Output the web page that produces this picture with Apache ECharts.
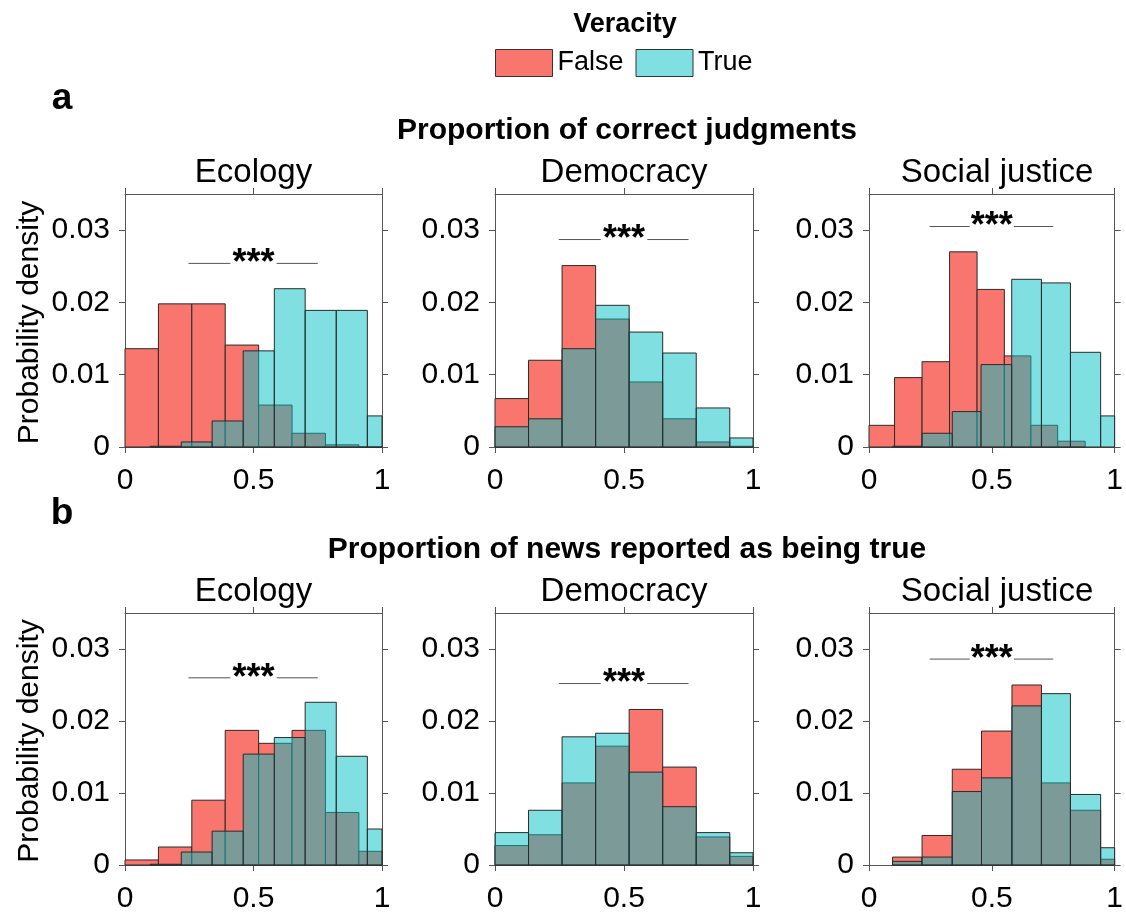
<!DOCTYPE html>
<html>
<head>
<meta charset="utf-8">
<script src="https://cdn.jsdelivr.net/npm/echarts@6/dist/echarts.min.js"></script>
<style>html,body{margin:0;padding:0;background:#fff}#c{width:1126px;height:915px}</style>
</head>
<body>
<div id="c"></div>
<script>
// ---- data ----
var panelTitles = ['Ecology', 'Democracy', 'Social justice'];
var rowTitles = ['Proportion of correct judgments', 'Proportion of news reported as being true'];
var rowLetters = ['a', 'b'];
var xTicks = [0, 0.5, 1];
var yTicks = [0, 0.01, 0.02, 0.03];

// bin edges
var edges13 = [0, 0.13, 0.26, 0.39, 0.52, 0.65, 0.78, 0.91, 1.04];
var edges12 = [0.098, 0.219, 0.339, 0.46, 0.581, 0.701, 0.822, 0.943, 1.063];
var edgesSJaFalse = [0, 0.104, 0.216, 0.328, 0.44, 0.551, 0.659, 0.768, 0.88];
var edgesSJaTrue = [0.096, 0.216, 0.339, 0.456, 0.581, 0.702, 0.82, 0.943, 1.065];
var edgesSJb = [0.096, 0.216, 0.339, 0.458, 0.582, 0.702, 0.82, 0.943, 1.065];

// row a: proportion of correct judgments
var ecoA_false = [0.0136, 0.0198, 0.0198, 0.0141, 0.0058, 0.0019, 0.0003, 0];
var ecoA_true  = [0.0001, 0.0007, 0.0036, 0.0133, 0.0219, 0.0189, 0.0189, 0.0043];
var demA_false = [0.0067, 0.0120, 0.0251, 0.0177, 0.0090, 0.0039, 0.0007, 0.0001];
var demA_true  = [0.0028, 0.0039, 0.0136, 0.0196, 0.0159, 0.0130, 0.0054, 0.00125];
var sjA_false  = [0.0030, 0.0096, 0.0118, 0.0270, 0.0218, 0.0126, 0.0030, 0.0008];
var sjA_true   = [0.0001, 0.0019, 0.0049, 0.0114, 0.0232, 0.0227, 0.0131, 0.0043];
// row b: proportion of news reported as being true
var ecoB_false = [0.0007, 0.0025, 0.0090, 0.0187, 0.0169, 0.0187, 0.0073, 0.0019];
var ecoB_true  = [0.0001, 0.0018, 0.0047, 0.0154, 0.0177, 0.0226, 0.0151, 0.0050];
var demB_false = [0.0027, 0.0042, 0.0114, 0.0165, 0.0216, 0.0136, 0.0039, 0.0012];
var demB_true  = [0.0045, 0.0076, 0.0178, 0.0183, 0.0129, 0.0081, 0.0045, 0.0017];
var sjB_false  = [0.0011, 0.0041, 0.0133, 0.0186, 0.0250, 0.0114, 0.0076, 0.0008];
var sjB_true   = [0.0005, 0.0011, 0.0102, 0.0121, 0.0221, 0.0238, 0.0098, 0.0024];

// significance brackets (y value of line), line extents in x
var sigY = [0.0254, 0.0287, 0.0305, 0.0260, 0.0252, 0.0286];
var sigLeft = [0.247, 0.41];
var sigRight = [0.59, 0.75];
var sigText = '***';

var panels = [
  {fe: edges13, f: ecoA_false, te: edges12, t: ecoA_true},
  {fe: edges13, f: demA_false, te: edges13, t: demA_true},
  {fe: edgesSJaFalse, f: sjA_false, te: edgesSJaTrue, t: sjA_true},
  {fe: edges13, f: ecoB_false, te: edges12, t: ecoB_true},
  {fe: edges13, f: demB_false, te: edges13, t: demB_true},
  {fe: edgesSJb, f: sjB_false, te: edgesSJb, t: sjB_true}
];

// ---- layout / style ----
var FONT = "'Liberation Sans', Arial, Helvetica, sans-serif";
var RED = '#F8766D';
var CYAN = 'rgba(0,191,196,0.5)';
var EDGE = '#2a2a2a';
var AX = '#555555';
var colLeft = [125, 495, 869];
var colWidth = [257, 258, 256];
var rowTop = [194, 613];
var rowHeight = [253, 252];

var grids = [], xAxes = [], yAxes = [], series = [], graphics = [];

function barSeries(name, edges, heights, fill, xi, z) {
  var data = heights.map(function (h, i) { return [edges[i], edges[i + 1], h]; });
  return {
    type: 'custom', name: name, xAxisIndex: xi, yAxisIndex: xi, z: z,
    itemStyle: {color: fill, borderColor: EDGE, borderWidth: 1},
    encode: {x: [0, 1], y: 2},
    data: data,
    renderItem: function (params, api) {
      var p0 = api.coord([api.value(0), api.value(2)]);
      var p1 = api.coord([api.value(1), 0]);
      var cs = params.coordSys;
      var r = echarts.graphic.clipRectByRect(
        {x: p0[0], y: p0[1], width: p1[0] - p0[0], height: p1[1] - p0[1]},
        {x: cs.x, y: cs.y, width: cs.width, height: cs.height});
      if (!r) return null;
      return {type: 'rect', shape: r, style: {fill: fill, stroke: EDGE, lineWidth: 1}};
    }
  };
}

for (var i = 0; i < 6; i++) {
  var r = Math.floor(i / 3), c = i % 3;
  grids.push({left: colLeft[c], top: rowTop[r], width: colWidth[c], height: rowHeight[r], containLabel: false});
  var ax = 2 * i;
  xAxes.push({
    type: 'value', gridIndex: i, position: 'bottom', min: 0, max: 1, interval: 0.5,
    axisLine: {show: true, onZero: false, lineStyle: {color: AX, width: 1}},
    axisTick: {show: true, inside: false, length: 6, lineStyle: {color: AX}},
    axisLabel: {show: true, margin: 19, fontSize: 30, fontFamily: FONT, color: '#000',
      customValues: xTicks, formatter: function (v) { return String(v); }},
    splitLine: {show: false}
  });
  xAxes.push({
    type: 'value', gridIndex: i, position: 'top', min: 0, max: 1, interval: 0.5,
    axisLine: {show: true, onZero: false, lineStyle: {color: AX, width: 1}},
    axisTick: {show: true, inside: false, length: 6, lineStyle: {color: AX}},
    axisLabel: {show: false}, splitLine: {show: false}
  });
  yAxes.push({
    type: 'value', gridIndex: i, position: 'left', min: 0, max: 0.035, interval: 0.01,
    axisLine: {show: true, onZero: false, lineStyle: {color: AX, width: 1}},
    axisTick: {show: true, inside: false, length: 6, customValues: yTicks, lineStyle: {color: AX}},
    axisLabel: {show: true, margin: 15, fontSize: 30, fontFamily: FONT, color: '#000',
      customValues: yTicks, formatter: function (v) { return v === 0 ? '0' : v.toFixed(2); }},
    splitLine: {show: false}
  });
  yAxes.push({
    type: 'value', gridIndex: i, position: 'right', min: 0, max: 0.035, interval: 0.01,
    axisLine: {show: true, onZero: false, lineStyle: {color: AX, width: 1}},
    axisTick: {show: true, inside: false, length: 6, customValues: yTicks, lineStyle: {color: AX}},
    axisLabel: {show: false}, splitLine: {show: false}
  });
  var p = panels[i];
  series.push(barSeries('False', p.fe, p.f, RED, ax, 2));
  series.push(barSeries('True', p.te, p.t, CYAN, ax, 3));
  series.push({
    type: 'custom', name: 'sig' + i, xAxisIndex: ax, yAxisIndex: ax, z: 4, silent: true,
    data: [[sigY[i]]],
    encode: {y: 0},
    renderItem: function (params, api) {
      var y = api.value(0);
      var a0 = api.coord([sigLeft[0], y]), a1 = api.coord([sigLeft[1], y]);
      var b0 = api.coord([sigRight[0], y]), b1 = api.coord([sigRight[1], y]);
      var m = api.coord([0.5, y]);
      return {type: 'group', children: [
        {type: 'line', shape: {x1: a0[0], y1: a0[1], x2: a1[0], y2: a1[1]}, style: {stroke: AX, lineWidth: 1}},
        {type: 'line', shape: {x1: b0[0], y1: b0[1], x2: b1[0], y2: b1[1]}, style: {stroke: AX, lineWidth: 1}},
        {type: 'text', x: m[0], y: m[1] + 1, style: {text: sigText, align: 'center', verticalAlign: 'middle',
          font: 'bold 36px ' + FONT, fill: '#000'}}
      ]};
    }
  });
  // panel title
  graphics.push({type: 'text', x: colLeft[c] + colWidth[c] / 2, y: rowTop[r] - 21,
    style: {text: panelTitles[c], align: 'center', verticalAlign: 'middle', font: '33px ' + FONT, fill: '#000'}});
}

for (var rr = 0; rr < 2; rr++) {
  graphics.push({type: 'text', x: 30, y: rowTop[rr] + rowHeight[rr] / 2 + 2, rotation: Math.PI / 2,
    style: {text: 'Probability density', align: 'center', verticalAlign: 'middle', font: '30px ' + FONT, fill: '#000'}});
  graphics.push({type: 'text', x: 627, y: rr === 0 ? 131 : 550,
    style: {text: rowTitles[rr], align: 'center', verticalAlign: 'middle', font: 'bold 30px ' + FONT, fill: '#000'}});
  graphics.push({type: 'text', x: 62, y: rr === 0 ? 99 : 514,
    style: {text: rowLetters[rr], align: 'center', verticalAlign: 'middle', font: 'bold 37px ' + FONT, fill: '#000'}});
}
graphics.push({type: 'text', x: 625, y: 25,
  style: {text: 'Veracity', align: 'center', verticalAlign: 'middle', font: 'bold 27px ' + FONT, fill: '#000'}});

var chart = echarts.init(document.getElementById('c'), null, {renderer: 'canvas'});
chart.setOption({
  backgroundColor: '#fff',
  animation: false,
  legend: {
    data: ['False', 'True'], left: 495, top: 49, padding: 0, itemWidth: 57, itemHeight: 27, itemGap: 12,
    icon: 'rect', selectedMode: false,
    itemStyle: {borderColor: '#333', borderWidth: 1},
    textStyle: {fontSize: 27, fontFamily: FONT, color: '#000', padding: [0, 0, 0, 0]}
  },
  grid: grids, xAxis: xAxes, yAxis: yAxes, series: series, graphic: graphics
});
</script>
</body>
</html>
